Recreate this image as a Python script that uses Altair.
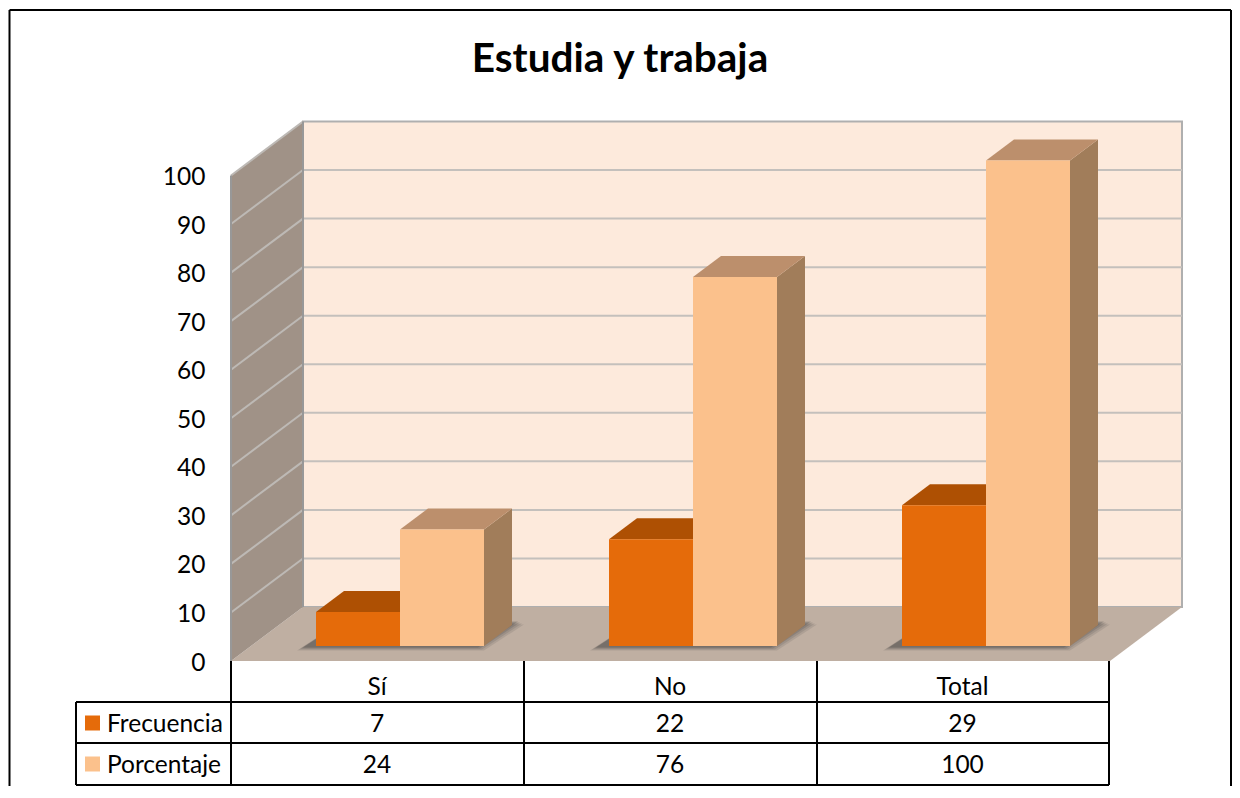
import altair as alt
import pandas as pd

categories = ["Sí", "No", "Total"]
frecuencia = [7, 22, 29]
porcentaje = [24, 76, 100]
y_ticks = [0, 10, 20, 30, 40, 50, 60, 70, 80, 90, 100]
series_names = ["Frecuencia", "Porcentaje"]
title_text = "Estudia y trabaja"

FONT = "Lato"
W, H = 1224, 778
X0, CAT = 231.0, 293.0     # pixel of the plot's front-left corner, pixels per category
Y0, UNIT = 661.0, 4.855    # pixel of value 0 on the front plane, pixels per value unit


def X(px):
    return (px - X0) / CAT


def Y(py):
    return (Y0 - py) / UNIT


x_scale = alt.Scale(domain=[X(8), X(8 + W)], nice=False, zero=False)
y_scale = alt.Scale(domain=[Y(8 + H), Y(8)], nice=False, zero=False)
xq = lambda f="x": alt.X(f"{f}:Q", scale=x_scale, axis=None)
yq = lambda f="y": alt.Y(f"{f}:Q", scale=y_scale, axis=None)

WALL_DX, WALL_DZ = 72 / CAT, 54 / UNIT
BAR_DX, BAR_DZ = 28 / CAT, 21 / UNIT
BAR_BASE = 15 / UNIT
BAR_W = 84 / CAT
BAR_START = 85 / CAT


def slab(x0, x1, v, dx, dz, g=0):
    """Horizontal parallelogram: front edge x0..x1 at height v, receding by dx, dz."""
    return [
        {"x": x0, "y": v, "y2": v, "g": g},
        {"x": x0 + dx, "y": v + dz, "y2": v, "g": g},
        {"x": x1, "y": v + dz, "y2": v, "g": g},
        {"x": x1 + dx, "y": v + dz, "y2": v + dz, "g": g},
    ]


def side(x, lo, hi, dx, dz, g=0):
    """Upright parallelogram receding from x by dx, dz."""
    return [
        {"x": x, "y": lo, "y2": hi, "g": g},
        {"x": x + dx, "y": lo + dz, "y2": hi + dz, "g": g},
    ]


def area(rows, color, opacity=1.0):
    return alt.Chart(pd.DataFrame(rows)).mark_area(color=color, opacity=opacity, interpolate="linear").encode(
        x=xq(), y=alt.Y("y:Q", scale=y_scale, axis=None, stack=None), y2="y2:Q", detail="g:N"
    )


def rule(rows, color, width):
    return alt.Chart(pd.DataFrame(rows)).mark_rule(color=color, strokeWidth=width).encode(
        x=xq(), x2="x2:Q", y=yq(), y2="y2:Q"
    )


def text(rows, size=24.5, align="center", weight="normal"):
    return alt.Chart(pd.DataFrame(rows)).mark_text(
        font=FONT, fontSize=size, align=align, baseline="middle", color="#000000", fontWeight=weight
    ).encode(x=xq(), y=yq(), text="t:N")


layers = []

# Chart frame (top, left, right; the bottom edge falls outside the picture)
top_px, left_px, right_px = 10, 9.5, 1231
layers.append(rule([
    {"x": X(left_px), "x2": X(right_px), "y": Y(top_px), "y2": Y(top_px)},
    {"x": X(left_px), "x2": X(left_px), "y": Y(top_px), "y2": Y(8 + H)},
    {"x": X(right_px), "x2": X(right_px), "y": Y(top_px), "y2": Y(8 + H)},
], "#000000", 2))

# Walls and floor, carrying the real value axis
x_right = 3.0
back = pd.DataFrame([{"x": WALL_DX, "x2": x_right + WALL_DX, "y": WALL_DZ, "y2": 100 + WALL_DZ}])
layers.append(
    alt.Chart(back).mark_rect(color="#FDEADC", stroke="#AFAFAF", strokeWidth=2).encode(
        x=xq(), x2="x2:Q",
        y=alt.Y("y:Q", scale=y_scale, axis=alt.Axis(
            values=y_ticks, orient="left", offset=-197, domain=False, ticks=False, grid=False, title=None,
            labelFont=FONT, labelFontSize=24.5, labelColor="#000000", labelPadding=0, labelAlign="right",
            labelOffset=2, zindex=1,
        )),
        y2="y2:Q",
    )
)
layers.append(area(slab(0, x_right, 0, WALL_DX, WALL_DZ), "#BFAFA2"))
layers.append(area(side(0, 0, 100, WALL_DX, WALL_DZ), "#A09287"))

# Gridlines on the back wall and the left wall
back_grid = [{"x": WALL_DX, "x2": x_right + WALL_DX, "y": t + WALL_DZ, "y2": t + WALL_DZ} for t in y_ticks[1:-1]]
layers.append(rule(back_grid, "#C4C0BC", 2))
wall_grid = []
for t in y_ticks[1:]:
    wall_grid += [{"x": 0, "y": t, "g": t}, {"x": WALL_DX, "y": t + WALL_DZ, "g": t}]
layers.append(alt.Chart(pd.DataFrame(wall_grid)).mark_line(color="#BDB9B5", strokeWidth=2).encode(
    x=xq(), y=yq(), detail="g:N"))
layers.append(rule([
    {"x": 0, "x2": 0, "y": 0, "y2": 100},
    {"x": WALL_DX, "x2": WALL_DX, "y": WALL_DZ, "y2": 100 + WALL_DZ},
], "#989898", 2))

# Soft shadows on the floor
for grow, op in [(7, 0.12), (5, 0.14), (3, 0.18), (1, 0.25)]:
    rows = []
    for i in range(len(categories)):
        x0 = i + BAR_START - (12 + grow) / CAT
        x1 = i + BAR_START + 2 * BAR_W + (grow - 7) / CAT
        rows += slab(x0, x1, BAR_BASE - (grow / 2 + 1) / UNIT, 40 / CAT, 26 / UNIT, g=i)
    layers.append(area(rows, "#3A3A3A", op))

# 3-D bars, drawn series by series so each one overlaps the one before it
styles = [
    (frecuencia, "#E56B0A", "#AE5003", "#8C4A12"),
    (porcentaje, "#FBC18C", "#BC8F6C", "#A17D5A"),
]
for s, (values, front, top, dark) in enumerate(styles):
    side_rows, top_rows, front_rows = [], [], []
    for i, v in enumerate(values):
        x0 = i + BAR_START + s * BAR_W
        x1 = x0 + BAR_W
        vv = v + BAR_BASE
        side_rows += side(x1, BAR_BASE, vv, BAR_DX, BAR_DZ, g=i)
        top_rows += slab(x0, x1, vv, BAR_DX, BAR_DZ, g=i)
        front_rows.append({"x": x0, "x2": x1, "y": BAR_BASE, "y2": vv})
    layers.append(area(side_rows, dark))
    layers.append(area(top_rows, top))
    layers.append(alt.Chart(pd.DataFrame(front_rows)).mark_rect(color=front).encode(
        x=xq(), x2="x2:Q", y=yq(), y2="y2:Q"))

# Data table below the plot
col_px = [231, 524, 817, 1109]
row_px = [702, 743, 785]
legend_px = 76
grid = [{"x": X(legend_px), "x2": X(col_px[-1]), "y": Y(p), "y2": Y(p)} for p in row_px]
grid += [{"x": X(legend_px), "x2": X(legend_px), "y": Y(row_px[0]), "y2": Y(row_px[-1])}]
layers.append(rule(grid, "#000000", 2))
grid_v = [{"x": X(p), "x2": X(p), "y": Y(661), "y2": Y(row_px[-1])} for p in col_px]
layers.append(rule(grid_v, "#000000", 2))

centers = [X((a + b) / 2 - 0.5) for a, b in zip(col_px[:-1], col_px[1:])]
header_y, row_y = Y(688), [Y(725), Y(766)]
swatch_y = [Y(723), Y(764)]
layers.append(text([{"x": c, "y": header_y, "t": n} for c, n in zip(centers, categories)]))
cells = []
for r, values in zip(row_y, [frecuencia, porcentaje]):
    cells += [{"x": c, "y": r, "t": str(v)} for c, v in zip(centers, values)]
layers.append(text(cells))
layers.append(text([{"x": X(107), "y": r, "t": n} for r, n in zip(row_y, series_names)], align="left"))
swatches = [
    {"x": X(85), "x2": X(100), "y": r - 7.5 / UNIT, "y2": r + 7.5 / UNIT, "c": c}
    for r, c in zip(swatch_y, ["#E56B0A", "#FBC18C"])
]
layers.append(alt.Chart(pd.DataFrame(swatches)).mark_rect().encode(
    x=xq(), x2="x2:Q", y=yq(), y2="y2:Q", color=alt.Color("c:N", scale=None, legend=None)))

chart = alt.layer(*layers).resolve_axis(y="independent").properties(
    width=W, height=H, padding=0, background="#FFFFFF",
    autosize=alt.AutoSizeParams(type="none"),
    title=alt.TitleParams(title_text, font=FONT, fontSize=40.5, fontWeight="bold", color="#000000",
                          anchor="middle", orient="top", offset=-72),
).configure_view(stroke=None)

chart.save("out.html", embed_options={"renderer": "svg", "actions": False})
